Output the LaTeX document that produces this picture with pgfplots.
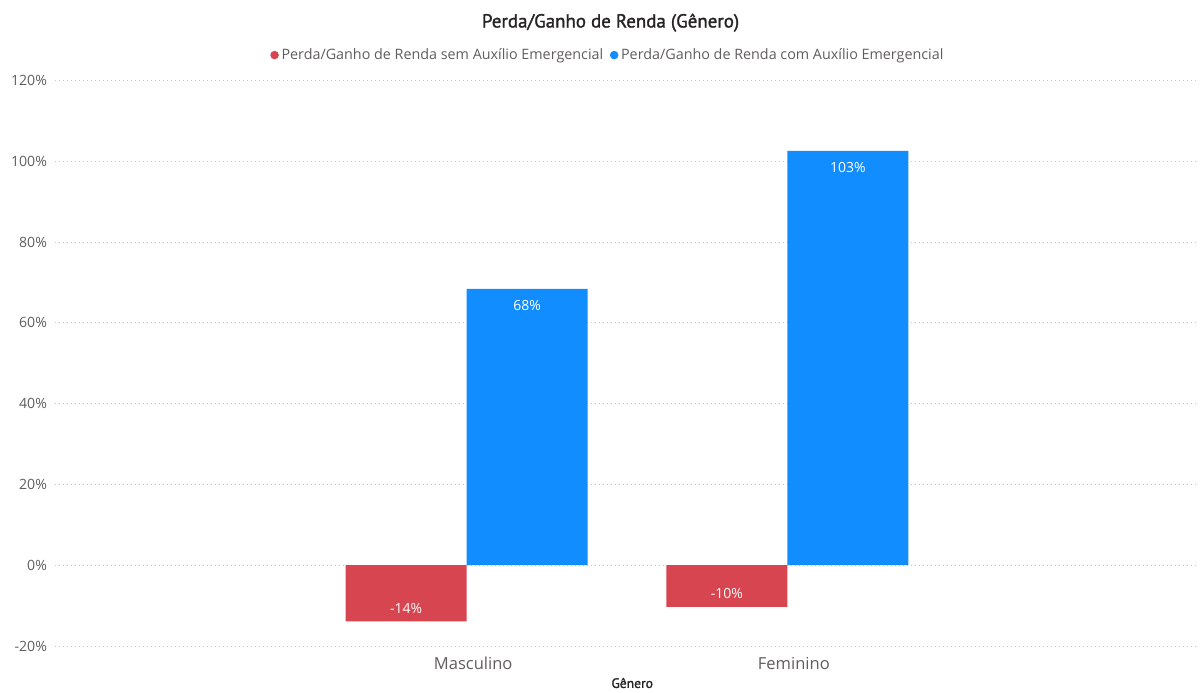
\documentclass[border=0pt]{standalone}
\usepackage{pgfplots}
\pgfplotsset{compat=1.18}
\usepackage{fontspec}
\setmainfont{Open Sans}
\newfontfamily\titlefont{PT Sans}[FakeBold=1.4]
\definecolor{pbred}{HTML}{D64550}
\definecolor{pbblue}{HTML}{118DFF}
\definecolor{ticktext}{HTML}{605E5C}
\definecolor{titletext}{HTML}{252423}
\definecolor{gridc}{HTML}{C8C6C4}
\begin{document}
\begin{tikzpicture}
\path (0,0) rectangle (900pt,517.5pt);
\node[font=\titlefont\fontsize{14.2}{16}\selectfont, text=titletext] at (457.9pt,500.5pt) {Perda/Ganho de Renda (Gênero)};
\begin{axis}[
  at={(41.25pt,33pt)}, anchor=south west,
  scale only axis, width=857.25pt, height=424.1pt,
  xmin=-1.284, xmax=2.281, ymin=-20, ymax=120,
  ytick={-20,0,20,40,60,80,100,120},
  /pgf/number format/assume math mode=true,
  yticklabel={\pgfmathprintnumber{\tick}\%},
  yticklabel style={font=\fontsize{10.6}{12}\selectfont, text=ticktext, xshift=-2.5pt},
  xtick={0,1}, xticklabels={Masculino,Feminino},
  xticklabel style={font=\fontsize{12.4}{14}\selectfont, text=ticktext, anchor=center, yshift=-8.5pt, xshift=4.9pt},
  axis line style={draw=none}, major tick style={draw=none},
  ymajorgrids, grid style={gridc, dash pattern=on 0.75pt off 2.25pt, line width=0.6pt},
  xlabel={Gênero},
  xlabel style={font=\titlefont\fontsize{10.2}{12}\selectfont, text=titletext, at={(axis description cs:0.505,0)}, anchor=center, yshift=-27.75pt},
  ybar, bar width=0.3774,
  legend style={at={(0.484,1.045)}, anchor=center, draw=none, fill=none, legend columns=2,
    font=\fontsize{10.75}{13}\selectfont, text=ticktext,
    /tikz/every even column/.append style={column sep=3pt}, inner sep=0pt},
]
\addplot[fill=pbred, draw=none, bar shift=-0.1887,
  legend image code/.code={\fill[pbred] (0pt,0pt) circle (3.2pt);},
  nodes near coords={\pgfmathprintnumber[fixed,precision=0]{\pgfplotspointmeta}\%},
  every node near coord/.append style={anchor=center, yshift=9.75pt, text=white, font=\fontsize{10.5}{12}\selectfont}]
  coordinates {(0,-13.9) (1,-10.3)};
\addlegendentry{Perda/Ganho de Renda sem Auxílio Emergencial}
\addplot[fill=pbblue, draw=none, bar shift=0.1887,
  legend image code/.code={\fill[pbblue] (0pt,0pt) circle (3.2pt);},
  nodes near coords={\pgfmathprintnumber[fixed,precision=0]{\pgfplotspointmeta}\%},
  every node near coord/.append style={anchor=center, yshift=-12.75pt, text=white, font=\fontsize{10.5}{12}\selectfont}]
  coordinates {(0,68.4) (1,102.6)};
\addlegendentry{Perda/Ganho de Renda com Auxílio Emergencial}
\end{axis}
\end{tikzpicture}
\end{document}
